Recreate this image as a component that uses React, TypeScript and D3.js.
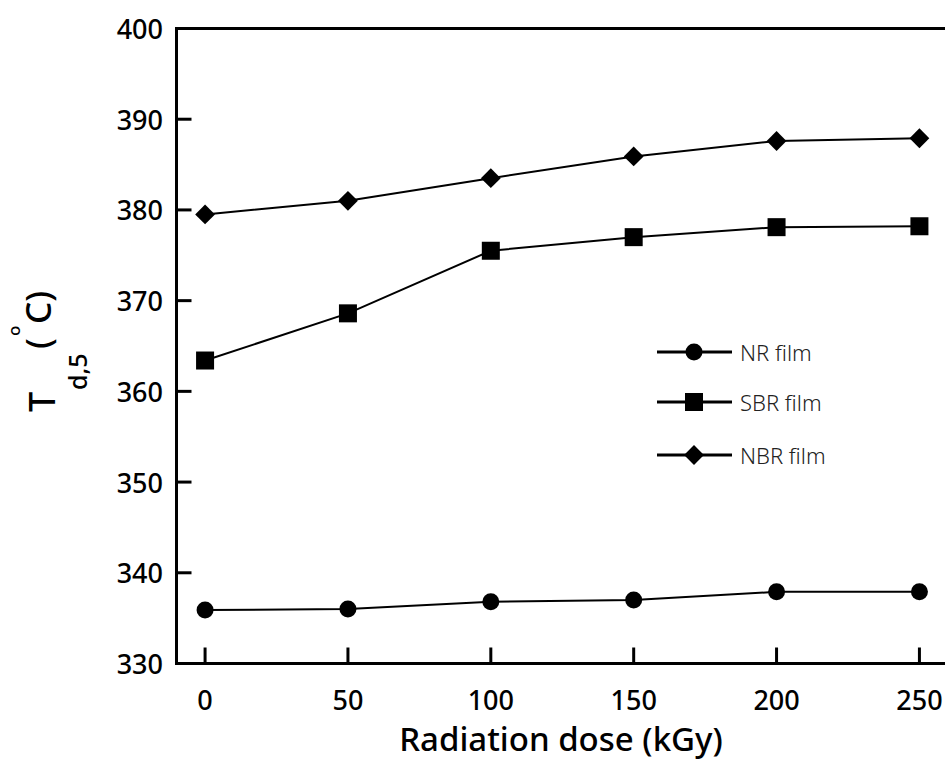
import React from "react";
import * as d3 from "d3";

const doses = [0, 50, 100, 150, 200, 250];
const nrFilm = [335.9, 336.0, 336.8, 337.0, 337.9, 337.9];
const sbrFilm = [363.4, 368.6, 375.5, 377.0, 378.1, 378.2];
const nbrFilm = [379.5, 381.0, 383.5, 385.9, 387.6, 387.9];
const yTicks = [330, 340, 350, 360, 370, 380, 390, 400];
const xTicks = [0, 50, 100, 150, 200, 250];
const seriesNames = ["NR film", "SBR film", "NBR film"];

const W = 945;
const H = 760;
const FONT = "'Noto Sans', 'Open Sans', sans-serif";

function Marker({ type, x, y }: { type: string; x: number; y: number }) {
  if (type === "circle") return <circle cx={x} cy={y} r={8.5} fill="#000" />;
  if (type === "square") return <rect x={x - 9} y={y - 9} width={18} height={18} fill="#000" />;
  const s = d3.symbol().type(d3.symbolDiamond2).size(250)();
  return <path d={s || ""} transform={`translate(${x},${y})`} fill="#000" />;
}

export default function App() {
  const x = d3.scaleLinear().domain([-10, 260]).range([176.5, 948]);
  const y = d3.scaleLinear().domain([330, 400]).range([663.5, 28.5]);
  const series = [
    { name: seriesNames[0], values: nrFilm, marker: "circle" },
    { name: seriesNames[1], values: sbrFilm, marker: "square" },
    { name: seriesNames[2], values: nbrFilm, marker: "diamond" },
  ];
  const line = d3
    .line<number>()
    .x((_, i) => x(doses[i]))
    .y((v) => y(v));
  const legendY = [352, 402, 455];

  return (
    <svg width={W} height={H} style={{ position: "absolute", left: 0, top: 0, background: "#fff" }}>
      <rect width={W} height={H} fill="#fff" />
      {/* axes frame */}
      <line x1={x(-10)} x2={W + 5} y1={y(400)} y2={y(400)} stroke="#000" strokeWidth={3} />
      <line x1={x(-10)} x2={W + 5} y1={y(330)} y2={y(330)} stroke="#000" strokeWidth={3} />
      <line x1={x(-10)} x2={x(-10)} y1={y(400) - 1.5} y2={y(330) + 1.5} stroke="#000" strokeWidth={3} />
      {/* y ticks */}
      {yTicks.map((t) => (
        <g key={"y" + t}>
          <line x1={x(-10)} x2={x(-10) + 15} y1={y(t)} y2={y(t)} stroke="#000" strokeWidth={3} />
          <text
            x={163}
            y={y(t)}
            textAnchor="end"
            dominantBaseline="central"
            fontFamily={FONT}
            fontSize={27}
            fontWeight={500}
            fill="#000"
          >
            {t}
          </text>
        </g>
      ))}
      {/* x ticks */}
      {xTicks.map((t) => (
        <g key={"x" + t}>
          <line x1={x(t)} x2={x(t)} y1={y(330)} y2={y(330) - 16} stroke="#000" strokeWidth={3} />
          <text
            x={x(t)}
            y={710}
            textAnchor="middle"
            fontFamily={FONT}
            fontSize={27}
            fontWeight={500}
            fill="#000"
          >
            {t}
          </text>
        </g>
      ))}
      {/* x title */}
      <text x={561} y={751} textAnchor="middle" fontFamily={FONT} fontSize={33} fontWeight={500} fill="#000">
        Radiation dose (kGy)
      </text>
      {/* y title */}
      <g transform="translate(55,412) rotate(-90)" fontFamily={FONT} fill="#000" fontWeight={500}>
        <text x={0} y={0} fontSize={36}>T</text>
        <text x={22} y={32} fontSize={25}>d,5</text>
        <text x={63} y={-4} fontSize={35}>(</text>
        <text x={76} y={-35} fontSize={17}>o</text>
        <text x={88} y={-4} fontSize={35}>C)</text>
      </g>
      {/* series */}
      {series.map((s) => (
        <g key={s.name}>
          <path d={line(s.values) || ""} fill="none" stroke="#000" strokeWidth={2} />
          {s.values.map((v, i) => (
            <Marker key={i} type={s.marker} x={x(doses[i])} y={y(v)} />
          ))}
        </g>
      ))}
      {/* legend */}
      {series.map((s, i) => (
        <g key={"leg" + s.name}>
          <line x1={657} x2={732} y1={legendY[i]} y2={legendY[i]} stroke="#000" strokeWidth={3} />
          <Marker type={s.marker} x={694} y={legendY[i]} />
          <text
            x={740}
            y={legendY[i] + 9}
            fontFamily={FONT}
            fontSize={22}
            fontWeight={300}
            fill="#222"
          >
            {s.name}
          </text>
        </g>
      ))}
    </svg>
  );
}
